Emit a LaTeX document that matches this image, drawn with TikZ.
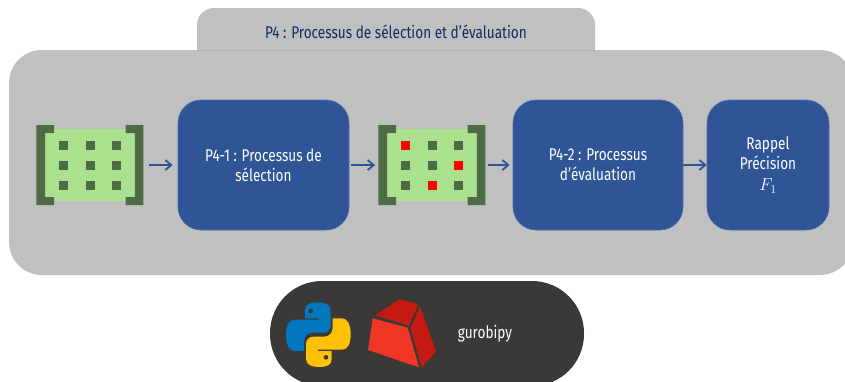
\documentclass[tikz,border=0pt]{standalone}
\usepackage{fontspec}
\setmainfont[FakeStretch=0.8]{Fira Sans}
\usetikzlibrary{arrows.meta}
\definecolor{panelgrey}{HTML}{C0C0C0}
\definecolor{boxblue}{HTML}{2F5597}
\definecolor{titlenavy}{HTML}{112B62}
\definecolor{matdark}{HTML}{4F6B45}
\definecolor{matgreen}{HTML}{A9E18F}
\definecolor{pilldark}{HTML}{3B3838}
\definecolor{pyblue}{HTML}{0277BD}
\definecolor{pyyellow}{HTML}{FFC107}
\definecolor{gurolight}{HTML}{F03624}
\definecolor{gurodark}{HTML}{C41A12}
\tikzset{
  panel/.style={fill=panelgrey,draw=none},
  procbox/.style={fill=boxblue,draw=boxblue!85!white,line width=0.6pt,rounded corners=23pt,
    inner sep=0pt,align=center,text=white,font=\fontsize{17}{20}\selectfont},
  matframe/.style={minimum width=107pt,minimum height=80pt,inner sep=0pt,draw=none},
  flow/.style={-{Straight Barb[length=6pt,width=10pt]},draw=boxblue,line width=1.8pt},
  cell/.style={fill=matdark},
  redcell/.style={fill=red},
}
\newcommand{\matbody}[1]{%
  \begin{scope}[shift={(#1,0)}]
    \fill[matgreen] (45,129) rectangle (135,201);
    \fill[matdark] (54,125) -- (36.3,125) -- (36.3,205) -- (54,205) -- (54,197) -- (45,197) -- (45,133) -- (54,133) -- cycle;
    \fill[matdark] (125.5,125) -- (143.3,125) -- (143.3,205) -- (125.5,205) -- (125.5,197) -- (134.8,197) -- (134.8,133) -- (125.5,133) -- cycle;
    \foreach \cx in {63.3,90,116.7}{\foreach \cy in {145,165,185}{
      \fill[cell] (\cx-4.5,\cy-4.5) rectangle (\cx+4.5,\cy+4.5);}}
  \end{scope}}
\newcommand{\snake}{(112,22) .. controls (90,22) and (75,28) .. (75,46) -- (75,70) -- (116,70) -- (116,74) -- (44,74)
    .. controls (26,74) and (18,92) .. (18,120) .. controls (18,150) and (28,168) .. (44,168) -- (72,168) -- (72,140)
    .. controls (72,124) and (82,113) .. (98,113) -- (128,113) .. controls (144,113) and (152,104) .. (152,88) -- (152,46)
    .. controls (152,28) and (134,22) .. (112,22) -- cycle}
\begin{document}
\begin{tikzpicture}[x=1pt,y=-1pt]
\clip (0,0) rectangle (845,381);
\fill[white] (0,0) rectangle (845,381);
% panels
\path[panel,rounded corners=17pt] (197,8) rectangle (595,90);
\path[panel,rounded corners=33pt] (9,50) rectangle (853,275);
\draw[panelgrey!92!black,line width=0.5pt] (197,50.2) -- (595,50.2);
\node[text=titlenavy,font=\fontsize{17}{20}\selectfont,inner sep=0pt] (title) at (396,32) {P4 : Processus de sélection et d’évaluation};
% pill
\fill[pilldark,rounded corners=52pt] (270,281) rectangle (584,386);
% matrices
\matbody{0}
\matbody{342}
\foreach \cx/\cy in {405.3/145,458.7/165,432/185}{
  \fill[redcell] (\cx-4.5,\cy-4.5) rectangle (\cx+4.5,\cy+4.5);}
\node[matframe] (m1) at (89.8,165) {};
\node[matframe] (m2) at (431.8,165) {};
% boxes
\node[procbox,minimum width=171pt,minimum height=130pt] (p41) at (263.5,165) {P4-1 : Processus de\\sélection};
\node[procbox,minimum width=170pt,minimum height=130pt] (p42) at (598,165) {P4-2 : Processus\\d’évaluation};
\node[procbox,minimum width=122pt,minimum height=130pt] (res) at (768,165) {\raisebox{-1pt}{Rappel}\\\raisebox{-1pt}{Précision}\\[1pt]\raisebox{-1.5pt}{\fontsize{18}{20}\selectfont$F_1$}};
% arrows
\draw[flow,shorten <=5.5pt,shorten >=5pt] (m1) -- (p41);
\draw[flow,shorten <=2pt,shorten >=3pt] (p41) -- (m2);
\draw[flow,shorten <=2.5pt,shorten >=3pt] (m2) -- (p42);
\draw[flow] (p42) -- (res);
% python logo
\begin{scope}[shift={(280,295)},x=0.3333pt,y=-0.3333pt]
  \fill[pyblue] \snake;
  \fill[pilldark] (92,48) circle (7);
  \begin{scope}[shift={(230,238)},x=-0.3333pt,y=0.3333pt]
    \fill[pyyellow] \snake;
  \end{scope}
  \fill[pilldark] (138,187) circle (7);
\end{scope}
% gurobi logo
\begin{scope}[shift={(360,290)},x=0.3333pt,y=-0.3333pt]
  \fill[gurolight] (38,85) -- (143,113) -- (177,232) -- (24,180) -- cycle;
  \fill[gurodark] (45,76) -- (118,28) -- (175,42) -- (147,107) -- cycle;
  \fill[gurodark] (180,48) -- (228,185) -- (185,232) -- (152,115) -- cycle;
\end{scope}
\node[text=white,font=\fontsize{17}{20}\selectfont,inner sep=0pt] (gp) at (485,334) {gurobipy};
\end{tikzpicture}
\end{document}
